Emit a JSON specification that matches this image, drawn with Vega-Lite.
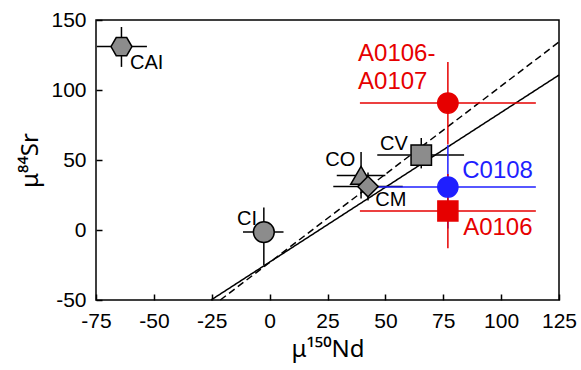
{
  "$schema": "https://vega.github.io/schema/vega-lite/v6.json",
  "width": 463,
  "height": 280,
  "autosize": "none",
  "padding": {"left": 96, "top": 20, "right": 22, "bottom": 70},
  "datasets": {
    "pts": [
      {"name": "CAI", "x": -64, "y": 131, "xlo": -74.6, "xhi": -53, "ylo": 116.5, "yhi": 145},
      {"name": "CI", "x": -2.5, "y": -1.5, "xlo": -11.5, "xhi": 6, "ylo": -25, "yhi": 16},
      {"name": "CO", "x": 39.5, "y": 39, "xlo": 29, "xhi": 50, "ylo": 22.5, "yhi": 55.7},
      {"name": "CM", "x": 42.5, "y": 31, "xlo": 27.5, "xhi": 57.5, "ylo": 21, "yhi": 41},
      {"name": "CV", "x": 65.5, "y": 53.5, "xlo": 46.5, "xhi": 84, "ylo": 44, "yhi": 65.7},
      {"name": "A0106-A0107", "x": 77, "y": 90.7, "xlo": 39, "xhi": 115, "ylo": 61, "yhi": 120},
      {"name": "C0108", "x": 77, "y": 30.7, "xlo": 39, "xhi": 115, "ylo": 1, "yhi": 60.7},
      {"name": "A0106", "x": 77, "y": 13.6, "xlo": 39, "xhi": 115, "ylo": -13, "yhi": 40}
    ],
    "fits": [
      {"model": "solid", "x": -25.3, "y": -50},
      {"model": "solid", "x": 125, "y": 110.7},
      {"model": "dashed", "x": -21.3, "y": -50},
      {"model": "dashed", "x": 125, "y": 134.3}
    ],
    "labels": [
      {"kind": "chondrite", "name": "CAI", "text": "CAI", "x": -60.3, "y": 119.6},
      {"kind": "chondrite", "name": "CI", "text": "CI", "x": -14.1, "y": 8.2},
      {"kind": "chondrite", "name": "CO", "text": "CO", "x": 24, "y": 50},
      {"kind": "chondrite", "name": "CM", "text": "CM", "x": 45.6, "y": 21.1},
      {"kind": "chondrite", "name": "CV", "text": "CV", "x": 47.7, "y": 61.1},
      {"kind": "sample", "name": "A0106-A0107", "text": "A0106-", "x": 38.2, "y": 125.7},
      {"kind": "sample", "name": "A0106-A0107", "text": "A0107", "x": 38.2, "y": 105.4},
      {"kind": "sample", "name": "C0108", "text": "C0108", "x": 83.2, "y": 42.5},
      {"kind": "sample", "name": "A0106", "text": "A0106", "x": 83.6, "y": 1.4}
    ]
  },
  "encoding": {
    "x": {"type": "quantitative", "scale": {"domain": [-75, 125], "nice": false, "zero": false},
          "axis": {"values": [-75, -50, -25, 0, 25, 50, 75, 100, 125], "title": "μ¹⁵⁰Nd", "titlePadding": 6}},
    "y": {"type": "quantitative", "scale": {"domain": [-50, 150], "nice": false, "zero": false},
          "axis": {"values": [-50, 0, 50, 100, 150], "title": "μ⁸⁴Sr", "titlePadding": 8}}
  },
  "layer": [
    {"mark": {"type": "rule", "color": "black", "strokeWidth": 1.5}, "encoding": {"y": {"datum": 0, "type": "quantitative"}}},
    {"mark": {"type": "rule", "color": "black", "strokeWidth": 1.5}, "encoding": {"x": {"datum": 0, "type": "quantitative"}}},
    {
      "data": {"name": "fits"},
      "mark": {"type": "line", "color": "black", "strokeWidth": 1.5},
      "encoding": {
        "x": {"field": "x", "type": "quantitative"},
        "y": {"field": "y", "type": "quantitative"},
        "detail": {"field": "model"},
        "strokeDash": {"field": "model", "type": "nominal", "scale": {"domain": ["solid", "dashed"], "range": [[1, 0], [7, 4]]}, "legend": null}
      }
    },
    {
      "data": {"name": "pts"},
      "mark": {"type": "rule", "strokeWidth": 1.5},
      "encoding": {
        "x": {"field": "xlo", "type": "quantitative"},
        "x2": {"field": "xhi"},
        "y": {"field": "y", "type": "quantitative"},
        "stroke": {"field": "name", "type": "nominal", "legend": null,
          "scale": {"domain": ["CAI", "CI", "CO", "CM", "CV", "A0106-A0107", "C0108", "A0106"],
                    "range": ["black", "black", "black", "black", "black", "#e60000", "#1f1fff", "#e60000"]}}
      }
    },
    {
      "data": {"name": "pts"},
      "mark": {"type": "rule", "strokeWidth": 1.5},
      "encoding": {
        "x": {"field": "x", "type": "quantitative"},
        "y": {"field": "ylo", "type": "quantitative"},
        "y2": {"field": "yhi"},
        "stroke": {"field": "name", "type": "nominal", "legend": null}
      }
    },
    {
      "data": {"name": "pts"},
      "mark": {"type": "point", "filled": false, "strokeWidth": 1.5, "opacity": 1, "fillOpacity": 1},
      "encoding": {
        "x": {"field": "x", "type": "quantitative"},
        "y": {"field": "y", "type": "quantitative"},
        "stroke": {"field": "name", "type": "nominal", "legend": null},
        "fill": {"field": "name", "type": "nominal", "legend": null,
          "scale": {"domain": ["CAI", "CI", "CO", "CM", "CV", "A0106-A0107", "C0108", "A0106"],
                    "range": ["#8c8c8c", "#8c8c8c", "#8c8c8c", "#8c8c8c", "#8c8c8c", "#e60000", "#1f1fff", "#e60000"]}},
        "shape": {"field": "name", "type": "nominal", "legend": null,
          "scale": {"domain": ["CAI", "CI", "CO", "CM", "CV", "A0106-A0107", "C0108", "A0106"],
                    "range": ["M-1,0L-0.5,-0.866L0.5,-0.866L1,0L0.5,0.866L-0.5,0.866Z", "circle", "triangle-up", "diamond", "square", "circle", "circle", "square"]}},
        "size": {"field": "name", "type": "nominal", "legend": null,
          "scale": {"domain": ["CAI", "CI", "CO", "CM", "CV", "A0106-A0107", "C0108", "A0106"],
                    "range": [440, 400, 460, 480, 340, 470, 470, 350]}}
      }
    },
    {
      "data": {"name": "labels"},
      "transform": [{"filter": "datum.kind === 'chondrite'"}],
      "mark": {"type": "text", "align": "left", "baseline": "middle", "fontSize": 20, "font": "Liberation Sans", "color": "black"},
      "encoding": {
        "x": {"field": "x", "type": "quantitative"},
        "y": {"field": "y", "type": "quantitative"},
        "text": {"field": "text"}
      }
    },
    {
      "data": {"name": "labels"},
      "transform": [{"filter": "datum.kind === 'sample'"}],
      "mark": {"type": "text", "align": "left", "baseline": "middle", "fontSize": 24, "font": "Liberation Sans", "fill": "white", "stroke": "white", "strokeWidth": 8, "strokeJoin": "round"},
      "encoding": {
        "x": {"field": "x", "type": "quantitative"},
        "y": {"field": "y", "type": "quantitative"},
        "text": {"field": "text"}
      }
    },
    {
      "data": {"name": "labels"},
      "transform": [{"filter": "datum.kind === 'sample'"}],
      "mark": {"type": "text", "align": "left", "baseline": "middle", "fontSize": 24, "font": "Liberation Sans"},
      "encoding": {
        "x": {"field": "x", "type": "quantitative"},
        "y": {"field": "y", "type": "quantitative"},
        "text": {"field": "text"},
        "fill": {"field": "name", "type": "nominal", "legend": null}
      }
    }
  ],
  "config": {
    "font": "Liberation Sans",
    "view": {"stroke": "black", "strokeWidth": 1.5},
    "axis": {
      "grid": false,
      "zindex": 1,
      "domain": false,
      "offset": -6,
      "tickColor": "black",
      "tickWidth": 1.5,
      "tickSize": 6,
      "labelFont": "Liberation Sans",
      "labelFontSize": 21,
      "labelColor": "black",
      "labelPadding": 10,
      "labelFlush": false,
      "labelOverlap": false,
      "labelExpr": "replace(datum.label, '−', '-')",
      "titleFont": "Noto Sans",
      "titleFontSize": 24,
      "titleFontWeight": "normal",
      "titleColor": "black"
    }
  }
}
